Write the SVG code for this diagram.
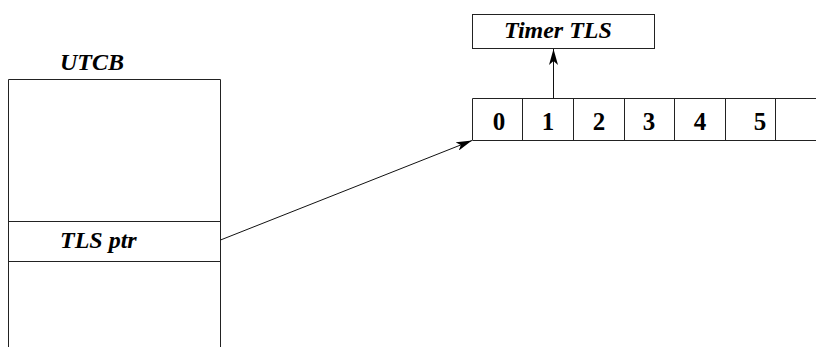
<svg xmlns="http://www.w3.org/2000/svg" width="816" height="347" viewBox="0 0 816 347">
  <style>
    .box { fill: none; stroke: #222; stroke-width: 1; }
    .lbl { font-family: "Liberation Serif", "Times New Roman", serif; font-weight: bold; font-style: italic; font-size: 24px; fill: #000; }
    .num { font-family: "Liberation Serif", "Times New Roman", serif; font-weight: bold; font-size: 25px; fill: #000; text-anchor: middle; }
    .wire { fill: none; stroke: #111; stroke-width: 1; }
  </style>
  <defs>
    <marker id="arrow" viewBox="0 0 16 9" refX="16" refY="4.5" markerWidth="16" markerHeight="9" markerUnits="userSpaceOnUse" orient="auto">
      <path d="M0,0 L16,4.5 L0,9 L4,4.5 Z" fill="#000"/>
    </marker>
  </defs>
  <rect width="816" height="347" fill="#fff"/>

  <!-- user thread control block -->
  <g id="utcb">
    <text class="lbl" x="60" y="70">UTCB</text>
    <path class="box" d="M8.5,347 V79.5 H220.5 V347"/>
  </g>
  <g id="tls-ptr">
    <rect class="box" x="8.5" y="221.5" width="212" height="40"/>
    <text class="lbl" x="60" y="248">TLS ptr</text>
  </g>

  <!-- TLS slot array -->
  <g id="tls-array">
    <path class="box" d="M816,98.5 H472.5 V140.5 H816"/>
    <path class="box" d="M522.5,98.5 V140.5 M573.5,98.5 V140.5 M624.5,98.5 V140.5 M674.5,98.5 V140.5 M725.5,98.5 V140.5 M775.5,98.5 V140.5"/>
    <text class="num" x="499" y="130">0</text>
    <text class="num" x="548" y="130">1</text>
    <text class="num" x="599" y="130">2</text>
    <text class="num" x="649" y="130">3</text>
    <text class="num" x="700" y="130">4</text>
    <text class="num" x="760" y="130">5</text>
  </g>

  <g id="timer-tls">
    <rect class="box" x="472.5" y="14.5" width="182" height="34"/>
    <text class="lbl" x="558" y="38" text-anchor="middle">Timer TLS</text>
  </g>

  <!-- pointers -->
  <g id="connectors">
    <line class="wire" x1="220.5" y1="240" x2="472" y2="140.5" marker-end="url(#arrow)"/>
    <line class="wire" x1="553.5" y1="98.5" x2="553.5" y2="49" marker-end="url(#arrow)"/>
  </g>
</svg>
